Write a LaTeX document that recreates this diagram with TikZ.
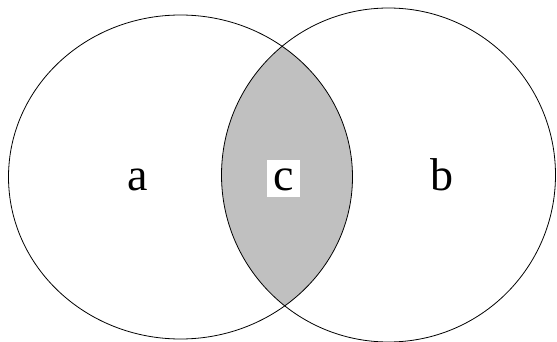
\documentclass[tikz,border=0pt]{standalone}
\usepackage{fontspec}
\setmainfont{Liberation Serif}
\definecolor{lensgray}{RGB}{192,192,192}
\tikzset{
  setname/.style={font=\fontsize{46}{50}\selectfont, inner sep=0pt, anchor=base},
  lensname/.style={setname, fill=white, inner xsep=6pt, text height=30pt, text depth=7pt}
}
\begin{document}
\begin{tikzpicture}[x=1pt,y=-1pt,line width=0.8pt]
\useasboundingbox (0,0) rectangle (557,342);
% the two sets
\coordinate (ca) at (180.5,177);
\coordinate (cb) at (388.5,175);
\begin{scope}
\clip (ca) ellipse [x radius=172pt, y radius=162pt];
\fill[lensgray] (cb) ellipse [x radius=167pt, y radius=167pt];
\end{scope}
\draw (ca) ellipse [x radius=172pt, y radius=162pt];
\draw (cb) ellipse [x radius=167pt, y radius=167pt];
% names
\node[setname] (a) at (137.5,190) {a};
\node[setname] (b) at (442,190) {b};
\node[lensname] (c) at (283.5,190) {c};
\end{tikzpicture}
\end{document}
